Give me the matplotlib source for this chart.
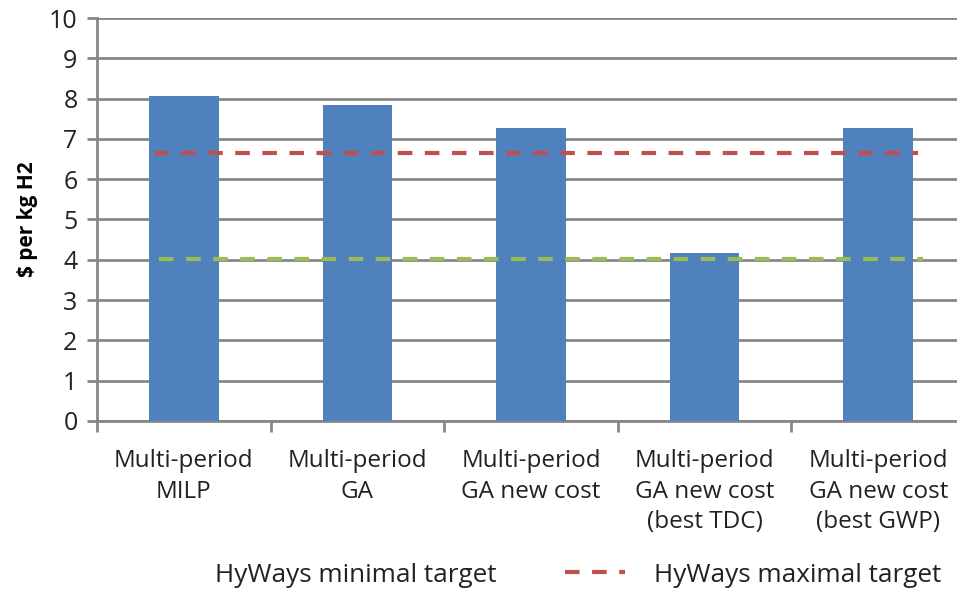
import matplotlib
matplotlib.use("Agg")
import matplotlib.pyplot as plt
from matplotlib.lines import Line2D

categories = ["Multi-period\nMILP", "Multi-period\nGA", "Multi-period\nGA new cost",
              "Multi-period\nGA new cost\n(best TDC)", "Multi-period\nGA new cost\n(best GWP)"]
values = [8.06, 7.84, 7.28, 4.18, 7.28]
max_target = 6.65
min_target = 4.03
yticks = list(range(0, 11))

plt.rcParams['font.family'] = ['Open Sans', 'DejaVu Sans']

fig = plt.figure(figsize=(9.57, 5.92), dpi=100)
ax = fig.add_axes([97/957, 1 - 421/592, (965-97)/957, (421-18)/592])

grid_c = '#878787'
dash = (0, (3.5, 3.0))
x = list(range(len(categories)))
ax.bar(x, values, width=0.4, color='#4F81BD', zorder=3)
ax.plot([-0.17, 4.23], [max_target, max_target], color='#C0504D', lw=3, ls=dash, zorder=4)
ax.plot([-0.14, 4.26], [min_target, min_target], color='#9BBB59', lw=3, ls=dash, zorder=4)

ax.set_xlim(-0.5, len(categories) - 0.5)
ax.set_ylim(0, 10)
ax.set_yticks(yticks)
ax.set_yticklabels([str(t) for t in yticks], fontsize=18, color='#222222')
ax.yaxis.grid(True, color=grid_c, lw=2)
ax.set_axisbelow(True)
for s in ['top', 'right']:
    ax.spines[s].set_visible(False)
for s in ['left', 'bottom']:
    ax.spines[s].set_color(grid_c)
    ax.spines[s].set_linewidth(2)
ax.tick_params(axis='y', length=7, width=2, color=grid_c, pad=7)
ax.set_xticks(x)
ax.set_xticklabels(categories, fontsize=17.5, color='#222222', linespacing=1.38)
ax.tick_params(axis='x', length=0, pad=20)
ax.set_xticks([i - 0.5 for i in range(len(categories) + 1)], minor=True)
ax.tick_params(axis='x', which='minor', length=8, width=2, color=grid_c)
ax.set_ylabel("$ per kg H2", fontsize=15, fontweight='bold', labelpad=8)

fig.text(215/957, 1 - 575/592, "HyWays minimal target", fontsize=18.8,
         color='#222222', ha='left', va='center')
handles = [Line2D([], [], color='#C0504D', lw=3, ls=dash)]
fig.legend(handles, ["HyWays maximal target"],
           loc='center left', bbox_to_anchor=(565/957, 1 - 575/592), frameon=False,
           fontsize=18.8, handlelength=2.3, handletextpad=1.1, borderpad=0, borderaxespad=0,
           labelcolor='#222222')

fig.savefig("out.png", dpi=100)
